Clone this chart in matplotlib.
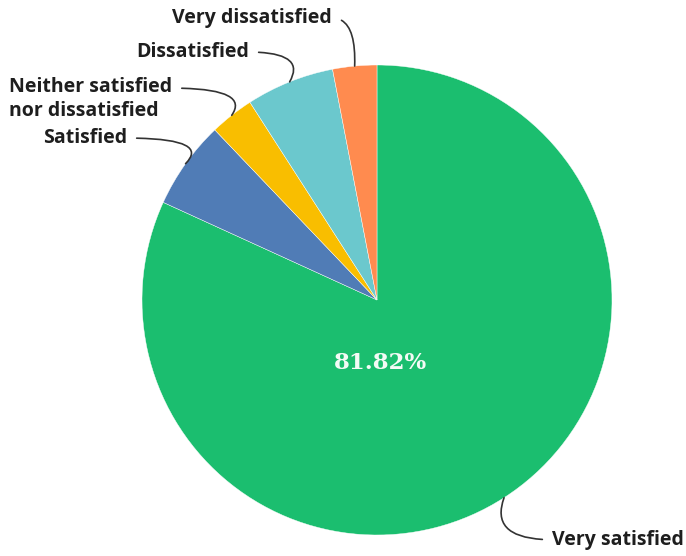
import numpy as np
import matplotlib
matplotlib.use('Agg')
import matplotlib.pyplot as plt

labels = ['Very satisfied', 'Satisfied', 'Neither satisfied\nnor dissatisfied',
          'Dissatisfied', 'Very dissatisfied']
counts = [27, 2, 1, 2, 1]
colors = ['#1bbe6f', '#507cb6', '#f9be00', '#6bc8cd', '#ff8b4f']

# label anchors (data units, pie radius = 1) and end tangent of the leader line
label_pos = [(0.745, -1.02), (-1.064, 0.689), (-0.872, 0.855), (-0.545, 1.055), (-0.191, 1.2)]
angle_b = [70, 45, 55, 60, 88]

fig = plt.figure(figsize=(6.86, 5.56), dpi=100)
cx, cy, r = 377, 556 - 300, 235
ax = fig.add_axes([(cx - r) / 686, (cy - r) / 556, 2 * r / 686, 2 * r / 556])

wedges, _ = ax.pie(counts, colors=colors, startangle=90, counterclock=False,
                   wedgeprops=dict(linewidth=0.3, edgecolor='white'))
ax.set_xlim(-1, 1)
ax.set_ylim(-1, 1)
ax.set_aspect('equal')
ax.axis('off')

pct = 100 * counts[0] / sum(counts)
ax.text(0.015, -0.27, f'{pct:.2f}%', ha='center', va='center', color='#f4fbf6',
        fontsize=16.5, fontweight='bold', family='DejaVu Serif')

for w, lab, (tx, ty), ab in zip(wedges, labels, label_pos, angle_b):
    mid = np.deg2rad((w.theta1 + w.theta2) / 2)
    xy = (np.cos(mid), np.sin(mid))
    left = tx < 0
    ax.annotate(lab, xy=xy, xytext=(tx, ty),
                ha='right' if left else 'left', va='center',
                multialignment='left', linespacing=1.25,
                fontsize=14, fontweight='bold', family='Open Sans', color='#1e1e1e',
                annotation_clip=False,
                arrowprops=dict(arrowstyle='-', color='#333333', lw=1.2,
                                shrinkA=5, shrinkB=0,
                                relpos=(1, 0.75) if '\n' in lab else ((1, 0.5) if left else (0, 0.5)),
                                connectionstyle=f'angle3,angleA=0,angleB={ab}'))

fig.savefig('out.png', dpi=100, facecolor='white')
